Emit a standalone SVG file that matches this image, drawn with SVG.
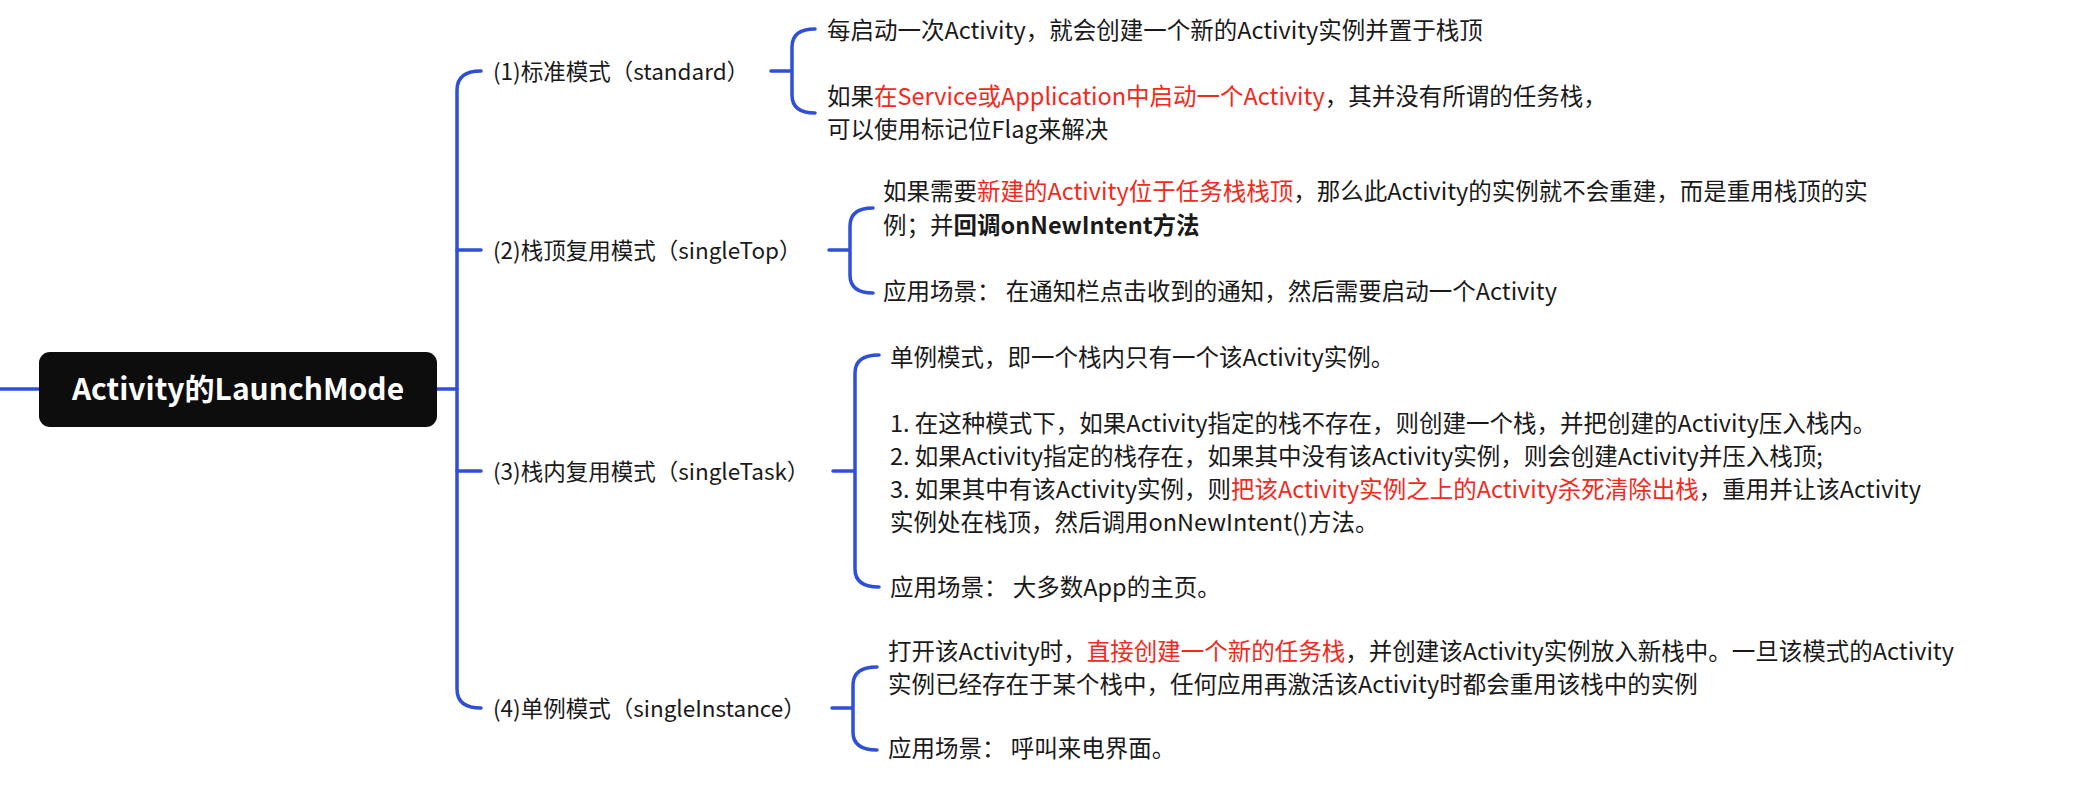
<svg xmlns="http://www.w3.org/2000/svg" width="2085" height="791" viewBox="0 0 2085 791">
<style>
.ln{fill:none;stroke:#2f4fd8;stroke-width:3.5;stroke-linecap:round}
.t{font-family:"Noto Sans CJK SC","Noto Sans",sans-serif;font-size:23.5px;fill:#1a1a1a}
.l{font-size:22.5px}
.r{fill:#f5281c}
.b{font-weight:bold}
.root{font-family:"Noto Sans CJK SC","Noto Sans",sans-serif;font-size:30px;font-weight:bold;fill:#fff}
</style>
<rect width="2085" height="791" fill="#fff"/>
<g id="connectors">
<path class="ln" d="M0,389 L39,389 M437,389 L457,389"/>
<path class="ln" d="M481,71 Q457,71 457,90 L457,689 Q457,708 481,708"/>
<path class="ln" d="M457,250 L481,250 M457,471 L481,471"/>
<path class="ln" d="M771,71 L792,71 M815,29 Q792,29 792,47 L792,95 Q792,113 815,113"/>
<path class="ln" d="M829,250 L850,250 M873,208 Q850,208 850,226 L850,275 Q850,293 873,293"/>
<path class="ln" d="M833,471 L855,471 M879,355 Q855,355 855,373 L855,569 Q855,587 879,587"/>
<path class="ln" d="M832,708 L853,708 M877,667 Q853,667 853,685 L853,732 Q853,750 877,750"/>
</g>
<g id="root">
<rect x="39" y="352" width="398" height="75" rx="11" fill="#0d0d0d"/>
<text class="root" x="238" y="400" text-anchor="middle">Activity的LaunchMode</text>
</g>
<g id="b1"><text class="t l" x="493" y="80">(1)标准模式（standard）</text></g>
<g id="b1c1"><text class="t" x="827" y="39">每启动一次Activity，就会创建一个新的Activity实例并置于栈顶</text></g>
<g id="b1c2"><text class="t" x="827" y="105">如果<tspan class="r">在Service或Application中启动一个Activity</tspan>，其并没有所谓的任务栈，</text>
<text class="t" x="827" y="138">可以使用标记位Flag来解决</text></g>
<g id="b2"><text class="t l" x="493" y="259">(2)栈顶复用模式（singleTop）</text></g>
<g id="b2c1"><text class="t" x="883" y="200">如果需要<tspan class="r">新建的Activity位于任务栈栈顶</tspan>，那么此Activity的实例就不会重建，而是重用栈顶的实</text>
<text class="t" x="883" y="234">例；并<tspan class="b">回调onNewIntent方法</tspan></text></g>
<g id="b2c2"><text class="t" x="883" y="300">应用场景： 在通知栏点击收到的通知，然后需要启动一个Activity</text></g>
<g id="b3"><text class="t l" x="493" y="480">(3)栈内复用模式（singleTask）</text></g>
<g id="b3c1"><text class="t" x="890" y="366">单例模式，即一个栈内只有一个该Activity实例。</text>
<text class="t" x="890" y="432">1. 在这种模式下，如果Activity指定的栈不存在，则创建一个栈，并把创建的Activity压入栈内。</text>
<text class="t" x="890" y="465">2. 如果Activity指定的栈存在，如果其中没有该Activity实例，则会创建Activity并压入栈顶;</text>
<text class="t" x="890" y="498">3. 如果其中有该Activity实例，则<tspan class="r">把该Activity实例之上的Activity杀死清除出栈</tspan>，重用并让该Activity</text>
<text class="t" x="890" y="531">实例处在栈顶，然后调用onNewIntent()方法。</text></g>
<g id="b3c2"><text class="t" x="890" y="596">应用场景： 大多数App的主页。</text></g>
<g id="b4"><text class="t l" x="493" y="717">(4)单例模式（singleInstance）</text></g>
<g id="b4c1"><text class="t" x="888" y="660">打开该Activity时，<tspan class="r">直接创建一个新的任务栈</tspan>，并创建该Activity实例放入新栈中。一旦该模式的Activity</text>
<text class="t" x="888" y="693">实例已经存在于某个栈中，任何应用再激活该Activity时都会重用该栈中的实例</text></g>
<g id="b4c2"><text class="t" x="888" y="757">应用场景： 呼叫来电界面。</text></g>
</svg>
